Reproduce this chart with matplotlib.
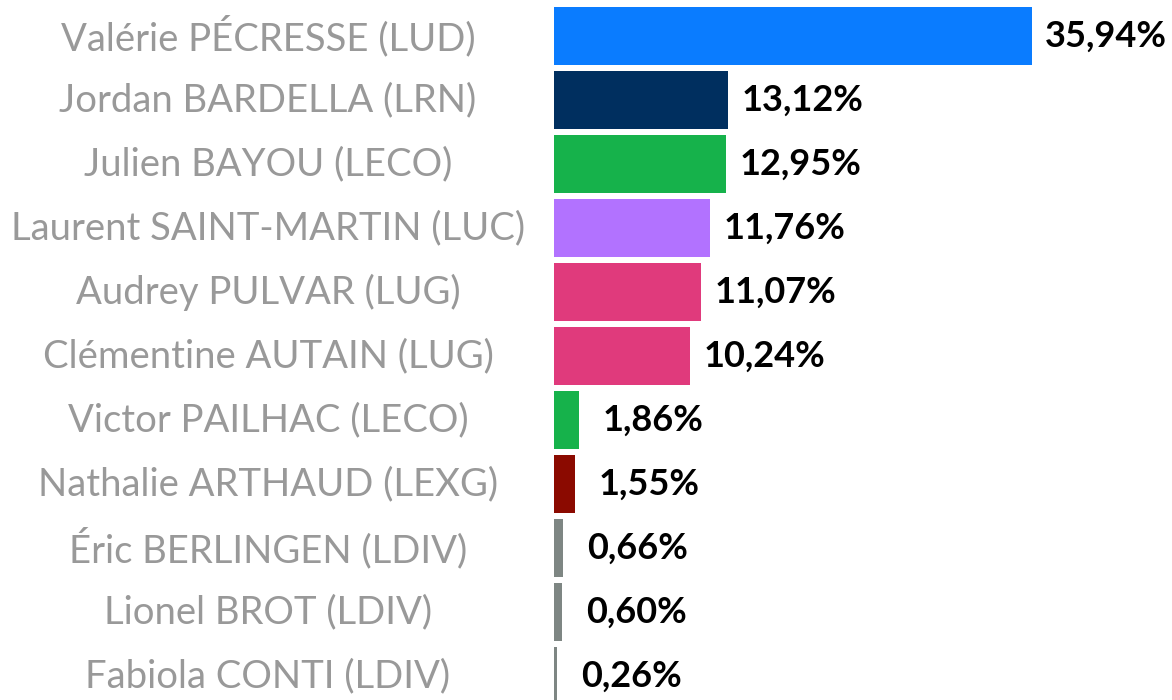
import matplotlib.pyplot as plt
from matplotlib.transforms import blended_transform_factory

candidats = ["Valérie PÉCRESSE (LUD)", "Jordan BARDELLA (LRN)", "Julien BAYOU (LECO)",
             "Laurent SAINT-MARTIN (LUC)", "Audrey PULVAR (LUG)", "Clémentine AUTAIN (LUG)",
             "Victor PAILHAC (LECO)", "Nathalie ARTHAUD (LEXG)", "Éric BERLINGEN (LDIV)",
             "Lionel BROT (LDIV)", "Fabiola CONTI (LDIV)"]
scores = [35.94, 13.12, 12.95, 11.76, 11.07, 10.24, 1.86, 1.55, 0.66, 0.60, 0.26]
couleurs = ["#0a7cff", "#002f5f", "#16b24b", "#b272ff", "#e03a7c", "#e03a7c",
            "#16b24b", "#8b0a00", "#7e8683", "#7e8683", "#7e8683"]

plt.rcParams['font.family'] = ['Lato', 'DejaVu Sans']

fig = plt.figure(figsize=(11.72, 7), dpi=100)
ax = fig.add_axes([554/1172, 0, 1 - 554/1172, 1])

pos = list(range(len(scores)))
ax.barh(pos, scores, height=0.906, color=couleurs)
ax.set_xlim(0, 46.5)
ax.set_ylim(10.375, -0.5625)
ax.axis('off')

# noms centrés dans la marge gauche
tr = blended_transform_factory(fig.transFigure, ax.transData)
for i, nom in enumerate(candidats):
    ax.text(268/1172, i, nom, transform=tr, ha='center', va='center',
            fontsize=27.5, color='#999999')

# valeurs
for i, v in enumerate(scores):
    txt = f"{v:.2f}".replace('.', ',') + "%"
    ax.annotate(txt, (v, i), xytext=(53.5, 0), textcoords='offset points',
                ha='center', va='center', fontsize=26, fontweight='bold', color='black')

fig.savefig("out.png", dpi=100)
